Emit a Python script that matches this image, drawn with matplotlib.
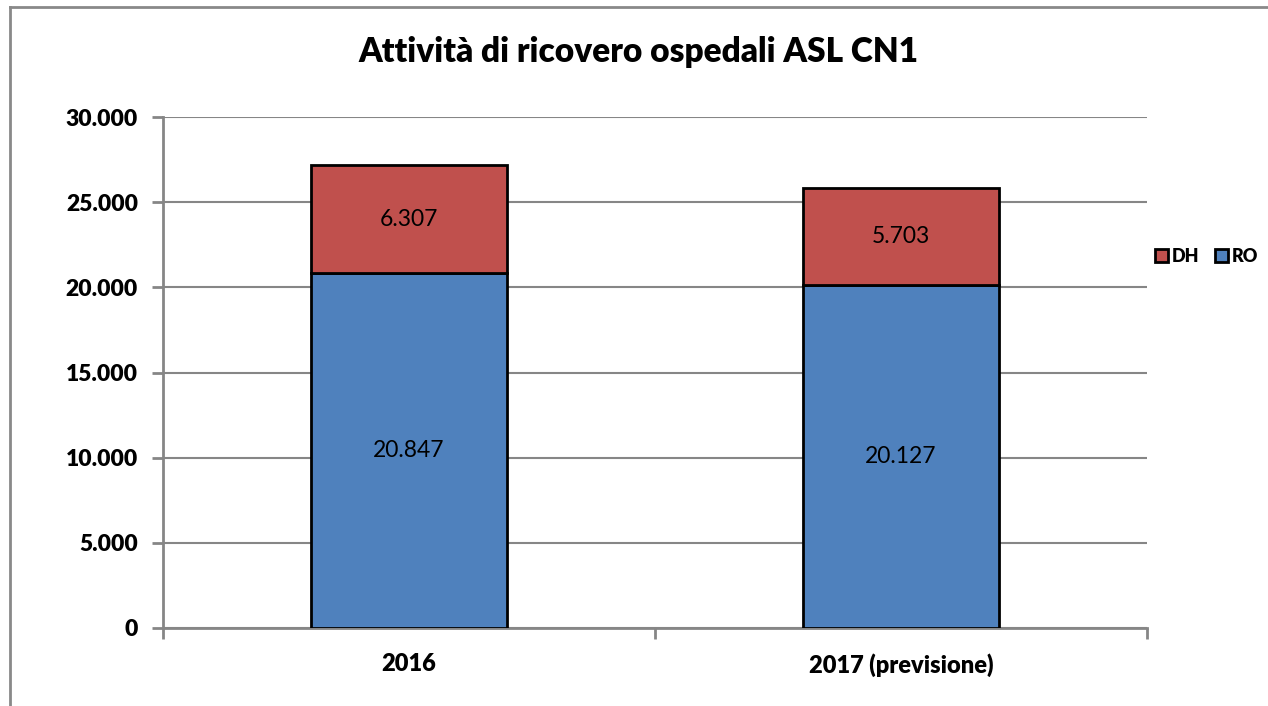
import matplotlib
matplotlib.use("Agg")
import matplotlib.pyplot as plt
from matplotlib.lines import Line2D
import numpy as np

categories = ["2016", "2017 (previsione)"]
ro_values = [20847, 20127]
dh_values = [6307, 5703]
y_ticks = [0, 5000, 10000, 15000, 20000, 25000, 30000]

plt.rcParams['font.family'] = ['Lato', 'DejaVu Sans']

W, H = 1268, 706
fig = plt.figure(figsize=(W / 100, H / 100), dpi=100)
ax = fig.add_axes([163 / W, (H - 628) / H, (1147 - 163) / W, (628 - 117) / H])

def fmt(v):
    return f"{int(round(v)):,}".replace(",", ".")

x = np.arange(len(categories))
blue = "#4F81BD"
red = "#C0504D"
b1 = ax.bar(x, ro_values, width=0.4, color=blue, edgecolor="black", linewidth=2, zorder=3, label="RO")
b2 = ax.bar(x, dh_values, width=0.4, bottom=ro_values, color=red, edgecolor="black", linewidth=2, zorder=3, label="DH")

for i in range(len(categories)):
    ax.text(x[i], ro_values[i] / 2, fmt(ro_values[i]), ha="center", va="center", fontsize=16.5, zorder=4)
    ax.text(x[i], ro_values[i] + dh_values[i] / 2, fmt(dh_values[i]), ha="center", va="center", fontsize=16.5, zorder=4)

ax.set_xlim(-0.5, 1.5)
ax.set_ylim(0, 30000)
ax.set_yticks(y_ticks)
ax.set_yticklabels([fmt(v) for v in y_ticks], fontweight=800, fontsize=16.5)
ax.set_xticks(x)
ax.set_xticklabels(categories, fontweight=800, fontsize=17)

# minor ticks at category boundaries
ax.set_xticks([-0.5, 0.5, 1.5], minor=True)
ax.tick_params(axis="x", which="major", length=0, pad=18)
ax.tick_params(axis="x", which="minor", length=8, width=2, color="#868686", direction="out")
ax.tick_params(axis="y", which="major", length=8, width=2, color="#868686", direction="out", pad=10)

ax.grid(axis="y", color="#868686", linewidth=1.5, zorder=0)
ax.set_axisbelow(True)
for s in ["top", "right"]:
    ax.spines[s].set_visible(False)
for s in ["left", "bottom"]:
    ax.spines[s].set_color("#868686")
    ax.spines[s].set_linewidth(2)

fig.text(638 / W, 1 - 52 / H, "Attività di ricovero ospedali ASL CN1", ha="center", va="center",
         fontsize=24, fontweight=800)

handles = [b2, b1]
leg = fig.legend(handles, ["DH", "RO"], loc="center left", bbox_to_anchor=(1148 / W, 1 - 256 / H),
                 ncol=2, frameon=False, handlelength=0.7, handleheight=0.7, handletextpad=0.2,
                 columnspacing=0.9, borderpad=0.2, borderaxespad=0.2,
                 prop={"weight": 800, "size": 13})

# figure border
fig.add_artist(Line2D([10 / W, 10 / W], [0, 1 - 7 / H], transform=fig.transFigure, color="#898989", linewidth=2))
fig.add_artist(Line2D([10 / W, 1], [1 - 7 / H, 1 - 7 / H], transform=fig.transFigure, color="#898989", linewidth=2))

fig.savefig("out.png", dpi=100)
